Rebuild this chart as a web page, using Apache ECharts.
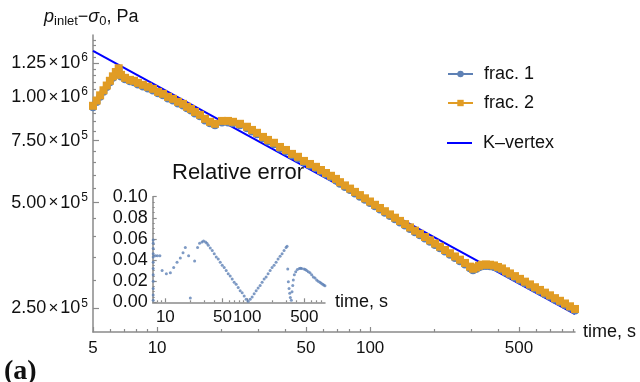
<!DOCTYPE html>
<html>
<head>
<meta charset="utf-8">
<script src="https://cdn.jsdelivr.net/npm/echarts@6/dist/echarts.min.js"></script>
<style>
  html, body { margin: 0; padding: 0; background: #ffffff; }
  #chart { width: 640px; height: 382px; }
</style>
</head>
<body>
<div id="chart"></div>
<script>
// Inlet pressure over time for two fracture runs, with the K-vertex power law,
// plus an inset with the relative error of the model.

// time, s
const time = [5.0, 5.2, 5.4, 5.6, 5.8, 6.0, 6.2, 6.4, 6.6,
  6.77, 7.07, 7.46, 7.79, 8.13, 8.58, 9.06, 9.56, 10.1, 10.66,
  11.25, 11.87, 12.53, 13.23, 13.81, 14.42, 15.06, 15.9, 16.78, 17.71,
  18.7, 20.17, 21.52, 22.71, 24.5, 26.42, 27.89, 29.44, 31.42, 33.16,
  35.38, 37.75, 40.28, 42.97, 45.85, 48.93, 52.21, 55.71, 58.8, 62.08,
  65.53, 69.16,
  72.2, 76.2, 80.5, 84.9, 89.6, 94.6, 99.9, 105.4, 111.3, 117.4,
  124, 130.9, 138.1, 145.8, 153.9, 162.4, 171.5, 181, 191, 201.6,
  212.8, 224.7, 237.1, 250.3, 264.2, 278.9, 294.4, 304.1, 314.2, 324.5,
  335.2, 349.9, 365.4, 381.5, 398.4, 416, 434.4, 453.6, 478.8, 505.4,
  533.5, 563.1, 594.4, 627.4, 662.3, 699.1, 737.9, 778.9, 822.2, 867.8,
  916];

// p_inlet - sigma_0, Pa
const frac1 = [934000, 966000, 1000000, 1034000, 1066000, 1100000, 1133000, 1165000, 1194000,
  1143000, 1122000, 1107000, 1100000, 1085000, 1071000, 1057000, 1043000, 1023000, 1010000,
  990000, 977000, 958000, 945000, 928000, 915000, 897000, 880000, 857000, 841000,
  830000, 845000, 845000, 841000, 830000, 814000, 797000, 782000, 762000, 746000,
  733000, 713000, 699000, 681000, 668000, 651000, 638000, 626000, 613000, 601000,
  590000, 578000,
  565800, 554000, 542500, 530900, 519800, 509100, 498500, 487900, 477800, 467800,
  458100, 448300, 439000, 429900, 420700, 411800, 403300, 394900, 386500, 378500,
  370600, 362600, 355100, 347700, 340500, 333200, 325200, 320800, 323500, 327100,
  329300, 329900, 329300, 327800, 324500, 321400, 315500, 311100, 305600, 300200,
  294700, 289500, 284100, 279200, 274200, 269500, 264500, 260000, 255400, 250800,
  246400];

const frac2 = [943000, 976000, 1010000, 1044000, 1077000, 1111000, 1144000, 1177000, 1206000,
  1155000, 1133000, 1118000, 1111000, 1096000, 1082000, 1068000, 1054000, 1033000, 1020000,
  1000000, 987000, 968000, 955000, 937000, 924000, 906000, 889000, 866000, 849000,
  838000, 854000, 854000, 849000, 838000, 822000, 805000, 790000, 769000, 754000,
  740000, 720000, 706000, 688000, 675000, 657000, 644000, 632000, 619000, 607000,
  596000, 584000,
  571500, 559600, 548000, 536300, 525100, 514200, 503500, 492800, 482600, 472500,
  462700, 452800, 443400, 434200, 424900, 416000, 407400, 398900, 390400, 382300,
  374300, 366300, 358700, 351200, 343900, 336600, 328500, 324000, 326800, 330400,
  332600, 333200, 332600, 331100, 327800, 324600, 318700, 314200, 308700, 303200,
  297700, 292400, 287000, 282000, 277000, 272200, 267200, 262600, 258000, 253300,
  248900];

// K-vertex solution: a straight line in log-log coordinates
const kVertexTime = [5, 916];
const kVertexP = [1352000, 240800];

// relative error (inset)
const errTime = [7.1, 7.1, 7.1, 7.1, 7.1, 7.1, 7.1, 7.1, 7.1, 7.1, 7.1, 7.1,
  7.55, 7.99, 8.57, 9.12, 10.28, 11.51, 12.63, 13.89, 15.24, 16.44,
  17.54, 19.24, 20.18, 22.77, 24.77, 26.2, 28.03, 29.32, 31.0, 32.25,
  33.45, 35.39, 37.43, 39.59, 41.88, 44.29, 46.85, 49.56, 52.42, 55.45,
  58.65, 62.04, 65.62, 69.41, 73.42, 77.66, 82.14, 86.89, 91.91, 97.22,
  102.8,
  108.8, 115.1, 121.7, 128.8, 136.2, 144.1, 152.4, 161.2, 170.5, 180.3,
  190.8, 201.8, 213.4, 225.8, 238.8, 252.6, 267.2, 282.6, 298.9, 307.4,
  313.5, 318.9, 325.2, 331.6, 337.3, 346.9, 353.8, 360.8, 366.9, 377.3,
  392.6, 410.6, 434.3, 450, 464.6, 495.6, 515, 534.6, 560, 586.6,
  615, 643.6, 675, 707.9, 740, 776.8, 805, 837.9, 865, 893.9];

const relErr = [0.059, 0.056, 0.051, 0.046, 0.043, 0.038, 0.032, 0.026, 0.020, 0.013, 0.007, 0.002,
  0.044, 0.044, 0.044, 0.030, 0.027, 0.028, 0.033, 0.038, 0.042, 0.047,
  0.052, 0.044, 0.004, 0.039, 0.052, 0.056, 0.057, 0.058, 0.057, 0.056,
  0.054, 0.0515, 0.049, 0.046, 0.043, 0.041, 0.038, 0.035, 0.033, 0.030,
  0.027, 0.025, 0.022, 0.019, 0.017, 0.014, 0.011, 0.009, 0.006, 0.003,
  0.001,
  0.003, 0.005, 0.008, 0.011, 0.0135, 0.016, 0.019, 0.022, 0.024, 0.027,
  0.030, 0.033, 0.035, 0.038, 0.041, 0.0435, 0.046, 0.049, 0.052, 0.053,
  0.0315, 0.0195, 0.013, 0.0085, 0.0045, 0.002, 0.010, 0.016, 0.021, 0.026,
  0.029, 0.031, 0.032, 0.0323, 0.032, 0.0315, 0.031, 0.030, 0.029, 0.028,
  0.026, 0.024, 0.023, 0.021, 0.020, 0.019, 0.018, 0.017, 0.0163, 0.0157];

// axis ranges and ticks
const xRange = [5, 916];
const yRange = [214000, 1500000];
const xMajorTicks = [5, 10, 50, 100, 500];
const xMinorTicks = [6, 7, 8, 9, 20, 30, 40, 60, 70, 80, 90, 200, 300, 400, 600, 700, 800, 900];
const yMajorTicks = [250000, 500000, 750000, 1000000, 1250000];
const yMinorTicks = [300000, 350000, 400000, 450000, 550000, 600000, 650000, 700000,
  800000, 850000, 900000, 950000, 1050000, 1100000, 1150000, 1200000,
  1300000, 1350000, 1400000, 1450000];
const insetXRange = [7, 895];
const insetXMajorTicks = [10, 50, 100, 500];
const insetXMinorTicks = [8, 9, 20, 30, 40, 60, 70, 80, 90, 200, 300, 400, 600, 700, 800];
const insetYRange = [0, 0.1];

const L = Math.log10;
const FONT = '"Liberation Sans", Arial, sans-serif';
const TEXT = '#111111';
const AXIS = '#8a8a8a';
const BLUE = '#5E81B5';
const ORANGE = '#E19C24';

const axisLine = { show: true, onZero: false, lineStyle: { color: AXIS, width: 1.5 } };

// Log-scaled tick rows drawn on a value axis spanning log10 of the range.
function tickAxis(grid, pos, range, ticks, len, labels, extra) {
  const vals = ticks.map(L);
  return Object.assign({
    type: 'value', gridIndex: grid, position: pos,
    min: L(range[0]), max: L(range[1]),
    axisLine: labels ? axisLine : { show: false },
    axisTick: { show: true, inside: true, length: len, customValues: vals,
      lineStyle: { color: AXIS, width: 1.2 } },
    axisLabel: labels ? Object.assign({ show: true, customValues: vals, hideOverlap: false,
      color: TEXT, fontFamily: FONT, fontSize: 17 }, labels) : { show: false },
    splitLine: { show: false }
  }, extra || {});
}

function hiddenLog(grid, pos, range) {
  return { type: 'log', gridIndex: grid, position: pos, min: range[0], max: range[1],
    axisLine: { show: false }, axisTick: { show: false }, axisLabel: { show: false },
    splitLine: { show: false } };
}

function sciLabel(v) {
  const val = Math.pow(10, v);
  const e = Math.floor(L(val) + 1e-9);
  const m = (val / Math.pow(10, e)).toFixed(2);
  return '{m|' + m + '}{x|×}{m|10}{e|' + e + '}';
}

const legendCommon = {
  itemWidth: 25, itemHeight: 8, padding: 0, itemGap: 0, left: 447,
  textStyle: { fontFamily: FONT, fontSize: 18, color: TEXT, padding: [0, 0, 0, 6] }
};

const option = {
  animation: false,
  backgroundColor: '#ffffff',
  title: [
    {
      text: '{i|p}{s|inlet}{n|−}{i|σ}{s|0}{n|, Pa}',
      left: 44, top: 6, padding: 0,
      textStyle: { fontWeight: 'normal', rich: {
        i: { fontFamily: FONT, fontSize: 18, fontStyle: 'italic', fontWeight: 'normal', color: TEXT },
        s: { fontFamily: FONT, fontSize: 13, fontWeight: 'normal', color: TEXT, padding: [9, 0, 0, 0] },
        n: { fontFamily: FONT, fontSize: 18, fontWeight: 'normal', color: TEXT }
      } }
    },
    {
      text: 'Relative error', left: 172, top: 162, padding: 0,
      textStyle: { fontFamily: FONT, fontSize: 22, fontWeight: 'normal', color: TEXT }
    },
    {
      text: '(a)', left: 4, top: 358, padding: 0,
      textStyle: { fontFamily: '"Liberation Serif", "Times New Roman", serif', fontSize: 28,
        fontWeight: 'bold', color: TEXT }
    }
  ],
  legend: [
    Object.assign({ data: ['frac. 1'], top: 65 }, legendCommon),
    Object.assign({ data: ['frac. 2'], top: 94 }, legendCommon),
    Object.assign({ data: [{ name: 'K–vertex', icon: 'path://M0,0L25,0L25,2L0,2Z' }], top: 134 }, legendCommon)
  ],
  grid: [
    { left: 93, top: 35, width: 482, height: 297, containLabel: false },
    { left: 152.7, top: 196.7, width: 172.3, height: 105.6, containLabel: false }
  ],
  xAxis: [
    hiddenLog(0, 'bottom', xRange),
    tickAxis(0, 'bottom', xRange, xMajorTicks, 5,
      { margin: 8, formatter: v => String(Math.round(Math.pow(10, v))) },
      { name: 'time, s', nameLocation: 'end', nameGap: 8,
        nameTextStyle: { fontFamily: FONT, fontSize: 18, color: TEXT, align: 'left', verticalAlign: 'middle' } }),
    tickAxis(0, 'bottom', xRange, xMinorTicks, 3, null),
    hiddenLog(1, 'bottom', insetXRange),
    tickAxis(1, 'bottom', insetXRange, insetXMajorTicks, 4,
      { margin: 7, formatter: v => String(Math.round(Math.pow(10, v))) },
      { name: 'time, s', nameLocation: 'end', nameGap: 10,
        nameTextStyle: { fontFamily: FONT, fontSize: 18, color: TEXT, align: 'left', verticalAlign: 'middle' } }),
    tickAxis(1, 'bottom', insetXRange, insetXMinorTicks, 2, null)
  ],
  yAxis: [
    hiddenLog(0, 'left', yRange),
    tickAxis(0, 'left', yRange, yMajorTicks, 6, {
      margin: 5, formatter: sciLabel,
      rich: {
        m: { fontFamily: FONT, fontSize: 18, color: TEXT },
        x: { fontFamily: FONT, fontSize: 17, color: TEXT, padding: [0, 2, 0, 2] },
        e: { fontFamily: FONT, fontSize: 12, color: TEXT, padding: [0, 0, 10, 1] }
      }
    }),
    tickAxis(0, 'left', yRange, yMinorTicks, 3, null),
    {
      type: 'value', gridIndex: 1, position: 'left',
      min: insetYRange[0], max: insetYRange[1], interval: 0.02,
      axisLine: axisLine,
      axisTick: { show: true, inside: true, length: 4, lineStyle: { color: AXIS, width: 1.2 } },
      minorTick: { show: true, splitNumber: 4, length: 2, lineStyle: { color: AXIS, width: 1 } },
      axisLabel: { show: true, margin: 5, color: TEXT, fontFamily: FONT, fontSize: 18,
        formatter: v => v.toFixed(2) },
      splitLine: { show: false }
    }
  ],
  series: [
    {
      name: 'frac. 1', type: 'line', xAxisIndex: 0, yAxisIndex: 0,
      data: time.map((t, i) => [t, frac1[i]]),
      symbol: 'circle', symbolSize: 8, showAllSymbol: true,
      itemStyle: { color: BLUE }, lineStyle: { color: BLUE, width: 1.5 }
    },
    {
      name: 'frac. 2', type: 'line', xAxisIndex: 0, yAxisIndex: 0,
      data: time.map((t, i) => [t, frac2[i]]),
      symbol: 'rect', symbolSize: 8, showAllSymbol: true,
      itemStyle: { color: ORANGE }, lineStyle: { color: ORANGE, width: 1.5 }
    },
    {
      name: 'K–vertex', type: 'line', xAxisIndex: 0, yAxisIndex: 0,
      data: kVertexTime.map((t, i) => [t, kVertexP[i]]),
      symbol: 'none', itemStyle: { color: '#0000FF' },
      lineStyle: { color: '#0000FF', width: 2 }
    },
    {
      name: 'relative error', type: 'scatter', xAxisIndex: 3, yAxisIndex: 3,
      data: errTime.map((t, i) => [t, relErr[i]]),
      symbol: 'circle', symbolSize: 3,
      itemStyle: { color: BLUE }
    }
  ]
};

const chart = echarts.init(document.getElementById('chart'), null, { renderer: 'canvas' });
chart.setOption(option);
</script>
</body>
</html>
